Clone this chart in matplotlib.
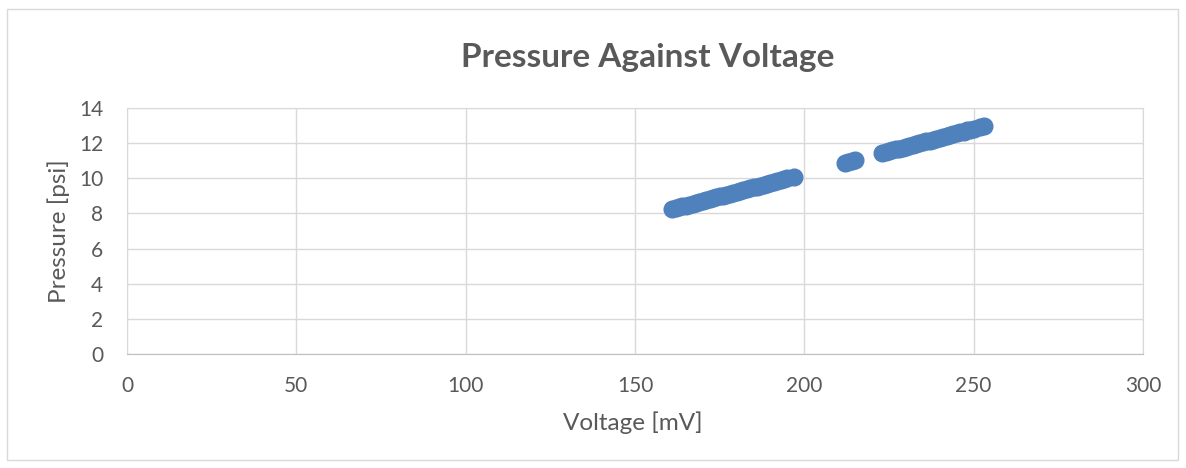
import matplotlib
matplotlib.use("Agg")
import matplotlib.pyplot as plt
import matplotlib.patches as patches

# voltage [mV] and pressure [psi]
voltage_a = [161, 162, 163, 164, 165, 166, 167, 168, 169, 170, 171, 172, 173, 174,
             175, 176, 177, 178, 179, 180, 181, 182, 183, 184, 185, 186, 187, 188,
             189, 190, 191, 192, 193, 194, 195, 197]
pressure_a = [8.25, 8.30, 8.35, 8.40, 8.45, 8.50, 8.55, 8.61, 8.66, 8.71, 8.76, 8.81,
              8.86, 8.91, 8.97, 9.02, 9.07, 9.12, 9.17, 9.22, 9.27, 9.32, 9.38, 9.43,
              9.48, 9.53, 9.58, 9.63, 9.68, 9.74, 9.79, 9.84, 9.89, 9.94, 9.99, 10.10]

voltage_b = [212, 213, 214, 215]
pressure_b = [10.87, 10.92, 10.97, 11.02]

voltage_c = [223, 224, 225, 226, 227, 228, 229, 230, 231, 232, 233, 234, 235, 236,
             237, 238, 239, 240, 241, 242, 243, 244, 245, 246, 247, 248, 249, 250,
             252, 253]
pressure_c = [11.43, 11.48, 11.54, 11.59, 11.64, 11.69, 11.74, 11.79, 11.84, 11.89,
              11.95, 12.00, 12.05, 12.10, 12.15, 12.20, 12.25, 12.31, 12.36, 12.41,
              12.46, 12.51, 12.56, 12.61, 12.66, 12.72, 12.77, 12.82, 12.92, 12.97]

voltage = voltage_a + voltage_b + voltage_c
pressure = pressure_a + pressure_b + pressure_c

plt.rcParams['font.family'] = ['Lato', 'DejaVu Sans']
text_col = '#595959'
grid_col = '#d9d9d9'
W, H = 1186, 468

fig = plt.figure(figsize=(W / 100, H / 100), dpi=100)
fig.patches.append(patches.Rectangle((7 / W, 8 / H), 1171 / W, 451 / H,
                                     transform=fig.transFigure, fill=False,
                                     edgecolor=grid_col, linewidth=1))
ax = fig.add_axes([127 / W, 114 / H, 1016 / W, 246 / H])

ax.plot(voltage, pressure, 'o', color='#4f81bd', markersize=12, zorder=3)

ax.set_xlim(0, 300)
ax.set_ylim(0, 14)
ax.set_xticks(range(0, 301, 50))
ax.set_yticks(range(0, 15, 2))
ax.grid(True, color=grid_col, linewidth=1)
for s in ax.spines.values():
    s.set_color(grid_col)
ax.spines['bottom'].set_color('#bfbfbf')
ax.tick_params(length=0, labelsize=15, colors=text_col)
ax.tick_params(axis='y', pad=17)
ax.tick_params(axis='x', pad=16)

ax.set_xlabel('Voltage [mV]', fontsize=17.5, color=text_col, va='center')
ax.xaxis.set_label_coords(633 / W, 45 / H, transform=fig.transFigure)
ax.set_ylabel('Pressure [psi]', fontsize=17.5, color=text_col, va='center')
ax.yaxis.set_label_coords(59 / W, (H - 231) / H, transform=fig.transFigure)
fig.text(648 / W, (H - 57) / H, 'Pressure Against Voltage',
         ha='center', va='center', fontsize=24, fontweight='bold', color=text_col)

fig.savefig('out.png', dpi=100)
